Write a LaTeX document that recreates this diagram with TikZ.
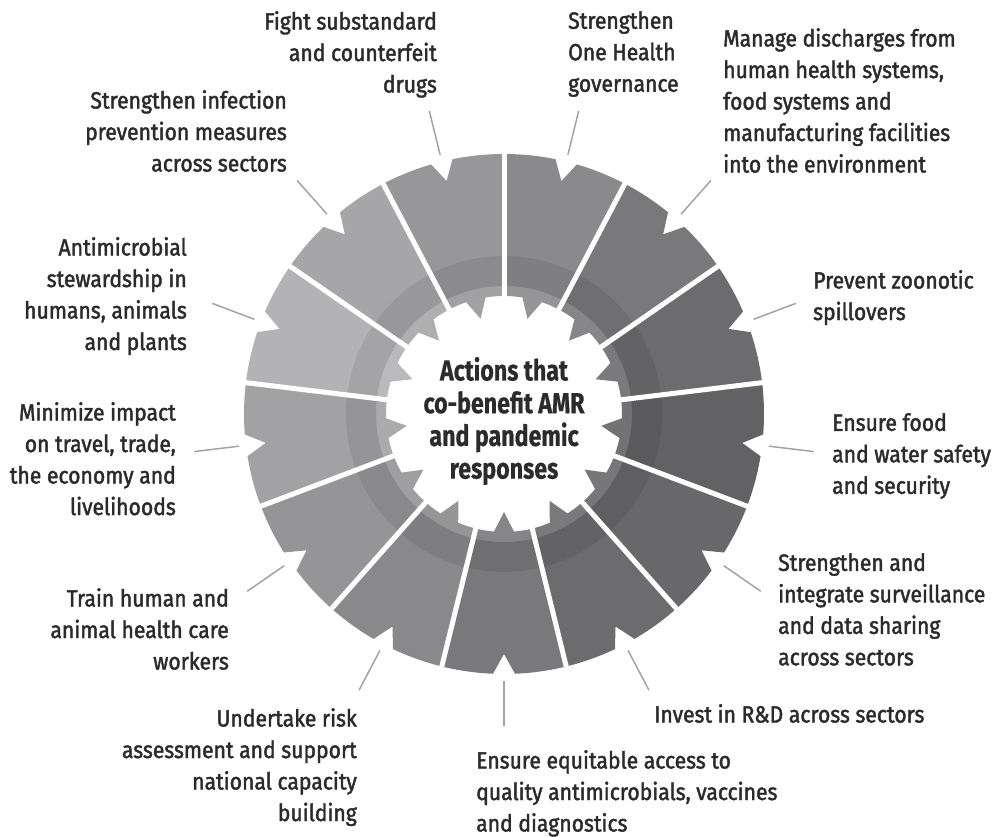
\documentclass[tikz,border=0pt]{standalone}
\usepackage{fontspec}
\setmainfont{Fira Sans}[FakeStretch=0.9]
\newfontfamily\labfont{Fira Sans}[FakeStretch=0.9,FakeBold=1.8]
\newfontfamily\ctrfont{Fira Sans}[FakeStretch=0.8,FakeBold=0.6]
\definecolor{txt}{HTML}{2B2B2B}
\definecolor{leadc}{HTML}{A3A3A3}
\tikzset{
  lab/.style={font=\labfont\fontsize{23.5}{31.5}\selectfont, text=txt, inner sep=0pt},
  labL/.style={lab, align=left, anchor=north west},
  labR/.style={lab, align=right, anchor=north east},
  leader/.style={draw=leadc, line width=1.5pt},
  gap/.style={draw=white, line width=5pt},
  ctr/.style={font=\ctrfont\bfseries\fontsize{29}{32.7}\selectfont, text=txt, align=center, inner sep=0pt}
}
\begin{document}
\begin{tikzpicture}[x=1pt,y=1pt]
\useasboundingbox (0,0) rectangle (992,836);
\def\Rout{260}\def\Rin{118}\def\dep{20}
\pgfmathsetmacro\dO{11/260*180/pi}
\pgfmathsetmacro\dI{10/118*180/pi}
\pgfmathsetmacro\Rn{\Rout-\dep}
\pgfmathsetmacro\Rt{\Rin-\dep}
\begin{scope}[shift={(504,422)}]
\foreach \i/\c in {0/8A8A8C,1/79797B,2/6C6C6E,3/626264,4/68686A,5/6C6C6E,6/79797B,7/89898B,8/959597,9/A2A2A4,10/B3B3B5,11/A6A6A8,12/979799}{
  \pgfmathsetmacro\aA{90-\i*360/13}
  \pgfmathsetmacro\aB{90-(\i+1)*360/13}
  \pgfmathsetmacro\am{(\aA+\aB)/2}
  \pgfmathsetmacro\aoP{\am+\dO}
  \pgfmathsetmacro\aoM{\am-\dO}
  \pgfmathsetmacro\aiP{\am+\dI}
  \pgfmathsetmacro\aiM{\am-\dI}
  \definecolor{segc}{HTML}{\c}
  \fill[segc] (\aA:\Rin) -- (\aA:\Rout) arc[start angle=\aA,end angle=\aoP,radius=\Rout]
     -- (\am:\Rn) -- (\aoM:\Rout) arc[start angle=\aoM,end angle=\aB,radius=\Rout]
     -- (\aB:\Rin) arc[start angle=\aB,end angle=\aiM,radius=\Rin]
     -- (\am:\Rt) -- (\aiP:\Rin) arc[start angle=\aiP,end angle=\aA,radius=\Rin] -- cycle;
}
\fill[black,opacity=.08,even odd rule] (0,0) circle[radius=158] (0,0) circle[radius=128];
\fill[white,opacity=.10] (0,0) circle[radius=128];
\foreach \i in {0,...,12}{
  \pgfmathsetmacro\aA{90-\i*360/13}
  \coordinate (g\i a) at (\aA:80);
  \coordinate (g\i b) at (\aA:275);
  \draw[gap] (g\i a) -- (g\i b);
  \pgfmathsetmacro\am{90-(\i+0.5)*360/13}
  \coordinate (p\i) at (\am:267);
  \coordinate (q\i) at (\am:312);
  \draw[leader] (p\i) -- (q\i);
}
\node[ctr] (center) at (0,-7) {Actions that\\co-benefit AMR\\and pandemic\\responses};
\end{scope}
% labels (x, 836 - top)
\node[labL] (l0) at (568,825) {Strengthen\\One Health\\governance};
\node[labL] (l1) at (723,808) {Manage discharges from\\human health systems,\\food systems and\\manufacturing facilities\\into the environment};
\node[labL] (l2) at (813,566) {Prevent zoonotic\\spillovers};
\node[labL] (l3) at (832,423) {Ensure food\\and water safety\\and security};
\node[labL] (l4) at (778,283) {Strengthen and\\integrate surveillance\\and data sharing\\across sectors};
\node[labL] (l5) at (654,132) {Invest in R\&D across sectors};
\node[labL] (l6) at (476,86) {Ensure equitable access to\\quality antimicrobials, vaccines\\and diagnostics};
\node[labR] (l7) at (357,128) {Undertake risk\\assessment and support\\national capacity\\building};
\node[labR] (l8) at (229,248) {Train human and\\animal health care\\workers};
\node[labR] (l9) at (176,434) {Minimize impact\\on travel, trade,\\the economy and\\livelihoods};
\node[labR] (l10) at (187,599) {Antimicrobial\\stewardship in\\humans, animals\\and plants};
\node[labR] (l11) at (287,746) {Strengthen infection\\prevention measures\\across sectors};
\node[labR] (l12) at (437,825) {Fight substandard\\and counterfeit\\drugs};
\end{tikzpicture}
\end{document}
